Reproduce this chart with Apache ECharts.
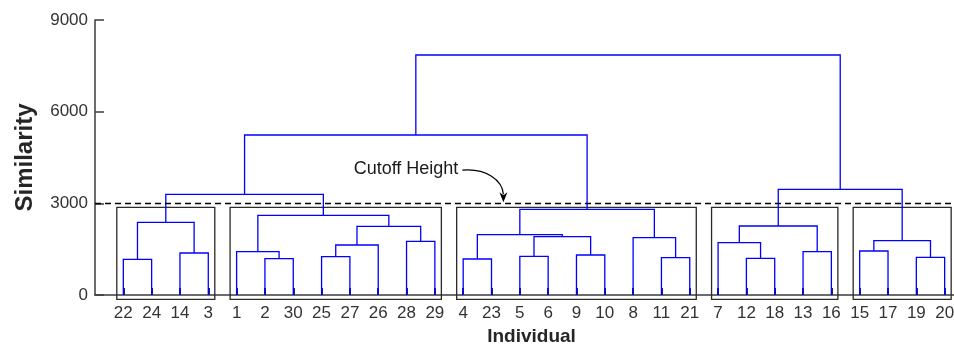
<!DOCTYPE html>
<html>
<head>
<meta charset="utf-8">
<script src="https://cdn.jsdelivr.net/npm/echarts@6/dist/echarts.min.js"></script>
<style>
html, body { margin: 0; padding: 0; background: #fff; }
#chart { width: 954px; height: 345px; }
</style>
</head>
<body>
<div id="chart"></div>
<script>
// leaf order along the x axis
const leafOrder = [22, 24, 14, 3, 1, 2, 30, 25, 27, 26, 28, 29, 4, 23, 5, 6, 9, 10, 8, 11, 21, 7, 12, 18, 13, 16, 15, 17, 19, 20];
// linkage rows: ids 1..30 are leaves, 31+ are the merged clusters in row order
const linkPairs = [
  [22, 24], [14, 3], [31, 32], [2, 30], [1, 34], [25, 27], [36, 26], [28, 29], [37, 38], [35, 39],
  [33, 40], [4, 23], [5, 6], [9, 10], [43, 44], [42, 45], [11, 21], [8, 47], [46, 48], [41, 49],
  [12, 18], [7, 51], [13, 16], [52, 53], [15, 17], [19, 20], [55, 56], [54, 57], [50, 58]
];
const linkHeights = [
  1168, 1375, 2378, 1189, 1418, 1255, 1636, 1756, 2247, 2607,
  3295, 1178, 1265, 1309, 1909, 1975, 1222, 1876, 2804, 5236,
  1200, 1712, 1418, 2258, 1440, 1233, 1778, 3458, 7855
];
// boxed clusters, first and last leaf of each
const clusterFirst = [22, 1, 4, 7, 15];
const clusterLast = [3, 29, 21, 16, 20];
const yTicks = [0, 3000, 6000, 9000];
const cutoff = 3000;

const FONT = "'Liberation Sans', Arial, sans-serif";
const BOX_TOP = 2870, BOX_BOTTOM = -140, BOX_PAD = 0.23;
const X_MAX = 30.33; // axis runs off the right edge of the figure

const nodeX = {}, nodeH = {};
leafOrder.forEach((id, i) => { nodeX[id] = i + 1; nodeH[id] = 0; });
const links = linkPairs.map(([a, b], k) => {
  const id = leafOrder.length + 1 + k;
  nodeX[id] = (nodeX[a] + nodeX[b]) / 2;
  nodeH[id] = linkHeights[k];
  const [l, r] = nodeX[a] < nodeX[b] ? [a, b] : [b, a];
  return [nodeX[l], nodeH[l], nodeX[r], nodeH[r], linkHeights[k]];
});
const boxes = clusterFirst.map((f, i) => [nodeX[f] - BOX_PAD, nodeX[clusterLast[i]] + BOX_PAD]);
const leafPos = leafOrder.map((_, i) => i + 1);

const axisColor = '#3c3c3c';
const chart = echarts.init(document.getElementById('chart'));
chart.setOption({
  animation: false,
  grid: { left: 95, right: 0, top: 20, bottom: 50, outerBoundsMode: 'none' },
  xAxis: {
    type: 'value',
    min: 0,
    max: X_MAX,
    interval: 1,
    name: 'Individual',
    nameLocation: 'middle',
    nameGap: 32,
    nameTextStyle: { fontSize: 19, fontWeight: 'bold', color: '#262626', fontFamily: FONT, padding: [0, 0, 0, 14] },
    axisLine: { show: true, lineStyle: { color: axisColor, width: 1.5 } },
    axisTick: { show: true, inside: true, length: 7, customValues: leafPos, lineStyle: { color: '#1c1c80', width: 2 } },
    axisLabel: { customValues: leafPos, formatter: (v) => String(leafOrder[v - 1]), fontSize: 17, color: '#333', fontFamily: FONT, margin: 10 },
    splitLine: { show: false }
  },
  yAxis: {
    type: 'value',
    min: yTicks[0],
    max: yTicks[yTicks.length - 1],
    interval: yTicks[1] - yTicks[0],
    name: 'Similarity',
    nameLocation: 'middle',
    nameGap: 58,
    nameRotate: 90,
    nameTextStyle: { fontSize: 24, fontWeight: 'bold', color: '#262626', fontFamily: FONT },
    axisLine: { show: true, lineStyle: { color: axisColor, width: 1.5 } },
    axisTick: { show: true, inside: true, length: 9, lineStyle: { color: axisColor, width: 1.5 } },
    axisLabel: { formatter: (v) => String(v), fontSize: 17, color: '#333', fontFamily: FONT, margin: 7 },
    splitLine: { show: false }
  },
  series: [
    {
      type: 'custom',
      coordinateSystem: 'cartesian2d',
      clip: false,
      z: 2,
      encode: { x: [0, 1], y: -1 },
      data: boxes,
      renderItem: (params, api) => {
        const a = api.coord([api.value(0), BOX_TOP]);
        const b = api.coord([api.value(1), BOX_BOTTOM]);
        return {
          type: 'rect',
          shape: { x: a[0], y: a[1], width: b[0] - a[0], height: b[1] - a[1] },
          style: { fill: null, stroke: '#2a2a2a', lineWidth: 1.3 }
        };
      }
    },
    {
      type: 'custom',
      coordinateSystem: 'cartesian2d',
      clip: false,
      z: 3,
      encode: { x: [0, 2], y: [1, 3, 4] },
      data: links,
      renderItem: (params, api) => {
        const h = api.value(4);
        const pts = [
          api.coord([api.value(0), api.value(1)]),
          api.coord([api.value(0), h]),
          api.coord([api.value(2), h]),
          api.coord([api.value(2), api.value(3)])
        ];
        return {
          type: 'polyline',
          shape: { points: pts },
          style: { fill: null, stroke: '#0000ff', lineWidth: 1.3 }
        };
      },
      markLine: {
        silent: true,
        symbol: 'none',
        label: { show: false },
        lineStyle: { color: '#000', type: [6, 4], width: 1.3 },
        data: [{ yAxis: cutoff }]
      }
    }
  ]
});

// "Cutoff Height" annotation pointing at the dashed line
const textAnchor = chart.convertToPixel({ gridIndex: 0 }, [12.83, 4120]);
const tip = chart.convertToPixel({ gridIndex: 0 }, [14.42, cutoff]);
const start = [textAnchor[0] + 4, textAnchor[1] + 1];
const end = [tip[0], tip[1] - 9];
chart.setOption({
  graphic: [
    {
      type: 'text',
      x: textAnchor[0],
      y: textAnchor[1],
      style: { text: 'Cutoff Height', fontSize: 18, fontFamily: FONT, fill: '#1a1a1a', align: 'right', verticalAlign: 'middle' }
    },
    {
      type: 'bezierCurve',
      shape: {
        x1: start[0], y1: start[1],
        cpx1: start[0] + 24, cpy1: start[1] - 2,
        cpx2: end[0] - 1, cpy2: end[1] - 14,
        x2: end[0], y2: end[1]
      },
      style: { stroke: '#000', lineWidth: 1.2, fill: null }
    },
    {
      type: 'polygon',
      shape: { points: [[tip[0], tip[1] - 1], [tip[0] - 4, tip[1] - 11], [tip[0], tip[1] - 8], [tip[0] + 4, tip[1] - 11]] },
      style: { fill: '#000' }
    }
  ]
});
</script>
</body>
</html>
